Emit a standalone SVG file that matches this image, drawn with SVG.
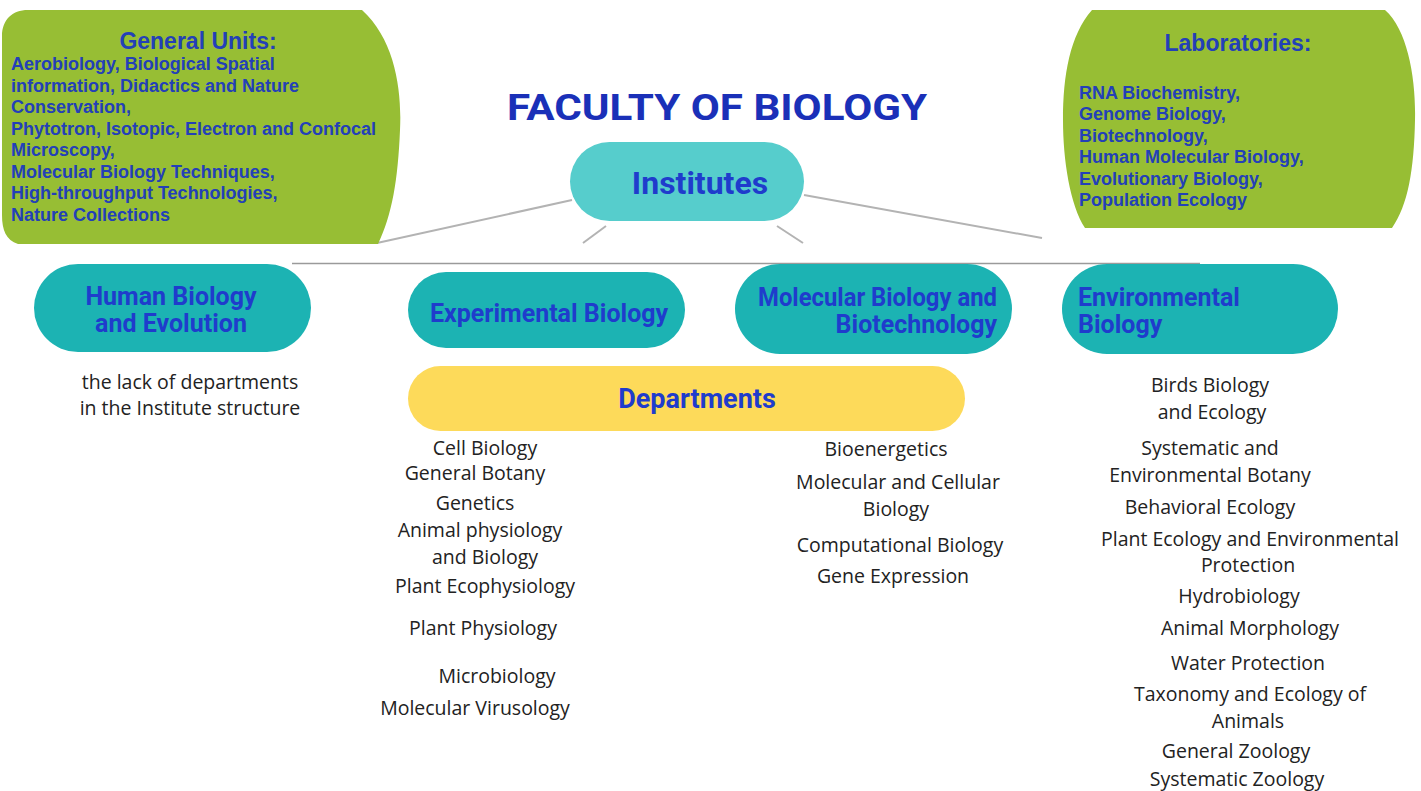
<svg xmlns="http://www.w3.org/2000/svg" width="1421" height="791" viewBox="0 0 1421 791">
<style>
.green{fill:#97be34}
.tealL{fill:#56cdcc}
.tealD{fill:#1cb3b3}
.yellow{fill:#fdda5a}
.conn{stroke:#b3b3b3;stroke-width:2;fill:none}
.hl{stroke:#9a9a9a;stroke-width:1.5;fill:none}
.gt{font-family:"Liberation Sans",Arial,sans-serif;font-weight:bold;font-size:18px;fill:#2340b8}
.gh{font-family:"Liberation Sans",Arial,sans-serif;font-weight:bold;font-size:23px;fill:#2340b8;text-anchor:middle}
.title{font-family:Roboto,"Liberation Sans",sans-serif;font-weight:bold;font-size:36px;fill:#1a30b8;text-anchor:middle}
.nt{font-family:Roboto,"Liberation Sans",sans-serif;font-weight:bold;font-size:25px;fill:#1f3ccc}
.big{font-size:32px}
.dep{font-size:27px}
.it{font-family:"Open Sans","Liberation Sans",sans-serif;font-size:19.5px;fill:#222;text-anchor:middle}
</style>

<g id="connectors">
<line class="conn" x1="572" y1="200" x2="377" y2="243"/>
<line class="conn" x1="804" y1="195" x2="1042" y2="238"/>
<line class="conn" x1="606" y1="226" x2="583" y2="243"/>
<line class="conn" x1="777" y1="226" x2="803" y2="243"/>
<line class="hl" x1="292" y1="263.5" x2="1200" y2="263.5"/>
</g>

<g id="general-units">
<path class="green" d="M28,10 L362,10 C395,40 402,90 400,130 C398,180 392,215 378,244 L18,244 C6,240 2,230 2,215 L2,36 C2,20 12,10 28,10 Z"/>
<text class="gh" x="198" y="49">General Units:</text>
<text class="gt" x="11" y="70">Aerobiology, Biological Spatial</text>
<text class="gt" x="11" y="92">information, Didactics and Nature</text>
<text class="gt" x="11" y="113">Conservation,</text>
<text class="gt" x="11" y="135">Phytotron, Isotopic, Electron and Confocal</text>
<text class="gt" x="11" y="156">Microscopy,</text>
<text class="gt" x="11" y="178">Molecular Biology Techniques,</text>
<text class="gt" x="11" y="199">High-throughput Technologies,</text>
<text class="gt" x="11" y="221">Nature Collections</text>
</g>

<g id="laboratories">
<path class="green" d="M1092,10 L1385,10 C1408,30 1416,80 1415,120 C1414,170 1408,205 1392,228 L1085,228 C1070,205 1063,160 1063,120 C1063,75 1070,35 1092,10 Z"/>
<text class="gh" x="1238" y="51">Laboratories:</text>
<text class="gt" x="1079" y="99">RNA Biochemistry,</text>
<text class="gt" x="1079" y="120">Genome Biology,</text>
<text class="gt" x="1079" y="142">Biotechnology,</text>
<text class="gt" x="1079" y="163">Human Molecular Biology,</text>
<text class="gt" x="1079" y="185">Evolutionary Biology,</text>
<text class="gt" x="1079" y="206">Population Ecology</text>
</g>

<g id="title">
<text class="title" x="717" y="120" textLength="420" lengthAdjust="spacingAndGlyphs">FACULTY OF BIOLOGY</text>
</g>

<g id="institutes">
<rect class="tealL" x="570" y="142" width="234" height="79" rx="39.5"/>
<text class="nt big" x="700" y="194" text-anchor="middle">Institutes</text>
</g>

<g id="human-biology">
<rect class="tealD" x="34" y="264" width="277" height="88" rx="44"/>
<text class="nt" x="171" y="305" text-anchor="middle">Human Biology</text>
<text class="nt" x="171" y="332" text-anchor="middle">and Evolution</text>
</g>

<g id="experimental-biology">
<rect class="tealD" x="408" y="272" width="277" height="76" rx="38"/>
<text class="nt" x="549" y="322" text-anchor="middle">Experimental Biology</text>
</g>

<g id="molecular-biology">
<rect class="tealD" x="735" y="264" width="277" height="90" rx="45"/>
<text class="nt" x="758" y="306" textLength="239" lengthAdjust="spacingAndGlyphs">Molecular Biology and</text>
<text class="nt" x="997" y="333" text-anchor="end">Biotechnology</text>
</g>

<g id="environmental-biology">
<rect class="tealD" x="1062" y="264" width="276" height="90" rx="45"/>
<text class="nt" x="1078" y="306">Environmental</text>
<text class="nt" x="1078" y="333">Biology</text>
</g>

<g id="departments">
<rect class="yellow" x="408" y="366" width="557" height="65" rx="32.5"/>
<text class="nt dep" x="697" y="408" text-anchor="middle">Departments</text>
</g>

<g id="human-note">
<text class="it" x="190" y="389">the lack of departments</text>
<text class="it" x="190" y="415">in the Institute structure</text>
</g>

<g id="experimental-list">
<text class="it" x="485" y="455">Cell Biology</text>
<text class="it" x="475" y="480">General Botany</text>
<text class="it" x="475" y="510">Genetics</text>
<text class="it" x="480" y="537">Animal physiology</text>
<text class="it" x="485" y="564">and Biology</text>
<text class="it" x="485" y="593">Plant Ecophysiology</text>
<text class="it" x="483" y="635">Plant Physiology</text>
<text class="it" x="497" y="683">Microbiology</text>
<text class="it" x="475" y="715">Molecular Virusology</text>
</g>

<g id="molecular-list">
<text class="it" x="886" y="456">Bioenergetics</text>
<text class="it" x="898" y="489">Molecular and Cellular</text>
<text class="it" x="896" y="516">Biology</text>
<text class="it" x="900" y="552">Computational Biology</text>
<text class="it" x="893" y="583">Gene Expression</text>
</g>

<g id="environmental-list">
<text class="it" x="1210" y="392">Birds Biology</text>
<text class="it" x="1212" y="419">and Ecology</text>
<text class="it" x="1210" y="455">Systematic and</text>
<text class="it" x="1210" y="482">Environmental Botany</text>
<text class="it" x="1210" y="514">Behavioral Ecology</text>
<text class="it" x="1250" y="546">Plant Ecology and Environmental</text>
<text class="it" x="1248" y="572">Protection</text>
<text class="it" x="1239" y="603">Hydrobiology</text>
<text class="it" x="1250" y="635">Animal Morphology</text>
<text class="it" x="1248" y="670">Water Protection</text>
<text class="it" x="1250" y="701">Taxonomy and Ecology of</text>
<text class="it" x="1248" y="728">Animals</text>
<text class="it" x="1236" y="758">General Zoology</text>
<text class="it" x="1237" y="786">Systematic Zoology</text>
</g>
</svg>
